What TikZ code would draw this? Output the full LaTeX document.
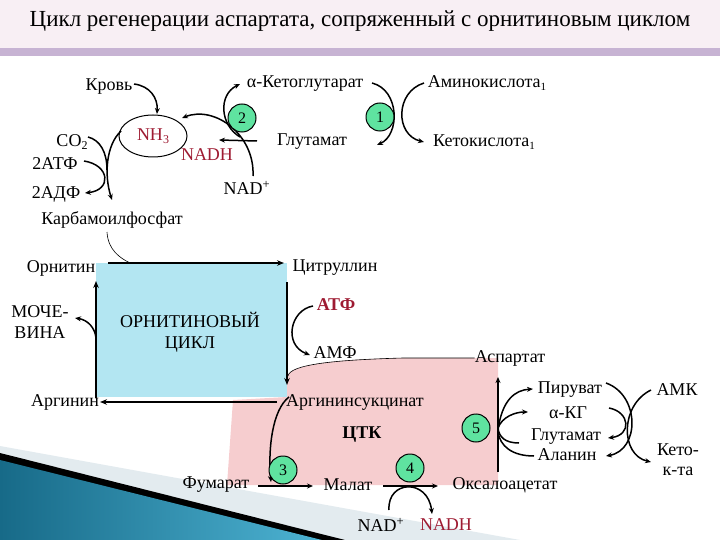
\documentclass[tikz,border=0pt]{standalone}
\usepackage{fontspec}
\setmainfont{Liberation Serif}
\usetikzlibrary{arrows.meta,shapes.geometric}
\definecolor{titlebg}{HTML}{F8EFF4}
\definecolor{barc}{HTML}{C7B3D3}
\definecolor{boxblue}{HTML}{B3E6F2}
\definecolor{pinkc}{HTML}{F6CDCF}
\definecolor{greenc}{HTML}{5FE3A0}
\definecolor{redc}{HTML}{9E1B32}
\definecolor{tealA}{HTML}{176A88}
\definecolor{tealB}{HTML}{4DB3D3}
\definecolor{paleblue}{HTML}{E3EBEF}
\begin{document}
\begin{tikzpicture}[x=1pt,y=-1pt,
  lbl/.style={inner sep=0pt,font=\fontsize{18}{21}\selectfont},
  redt/.style={text=redc},
  enz/.style={circle,draw,line width=1pt,fill=greenc,minimum size=28pt,inner sep=0pt,font=\fontsize{16}{16}\selectfont},
  arr/.style={-{Stealth[length=6pt,width=5pt]},line width=1.5pt},
  ln/.style={line width=1.5pt},
  boxarr/.style={-{Stealth[length=7pt,width=5.5pt]},line width=2pt},
  thinl/.style={line width=0.6pt}]
\useasboundingbox (0,0) rectangle (720,540);
% background
\fill[titlebg] (0,0) rectangle (720,48);
\fill[barc] (0,48) rectangle (720,56);
\fill[paleblue] (0,446) -- (520,540) -- (0,540) -- cycle;
\fill[black] (0,453) -- (345,540) -- (0,540) -- cycle;
\shade[left color=tealA,right color=tealB] (0,460) -- (322,540) -- (0,540) -- cycle;
\node[inner sep=0pt,font=\fontsize{23}{25}\selectfont] (title) at (360,21) {Цикл регенерации аспартата, сопряженный с орнитиновым циклом};
% regions
\fill[pinkc] (227,485) -- (233,400) -- (287,397) -- (287,376) .. controls (292,364) and (340,359) .. (405,358) -- (498,358) -- (498,485) -- cycle;
\fill[boxblue] (96,263) rectangle (287,397);
% top labels
\node[lbl] (krov) at (109,87) {Кровь};
\node[lbl] (akg) at (305,84) {α-Кетоглутарат};
\node[lbl] (amino) at (487,83) {Аминокислота\raisebox{-3pt}{\fontsize{11}{11}\selectfont 1}};
\node[lbl] (glu) at (312,142) {Глутамат};
\node[lbl] (keto) at (484,142) {Кетокислота\raisebox{-3pt}{\fontsize{11}{11}\selectfont 1}};
\node[ellipse,draw,line width=1pt,minimum width=68pt,minimum height=42pt,inner sep=0pt,font=\fontsize{18}{21}\selectfont,text=redc] (nh3) at (153,136) {NH\raisebox{-3pt}{\fontsize{12}{12}\selectfont 3}};
\node[lbl,redt] (nadh) at (207,155) {NADH};
\node[lbl] (co2) at (72,142) {CO\raisebox{-3pt}{\fontsize{12}{12}\selectfont 2}};
\node[lbl] (atp2) at (55,164) {2АТФ};
\node[lbl] (adp2) at (56,194) {2АДФ};
\node[lbl] (carb) at (112,220) {Карбамоилфосфат};
\node[lbl] (nadp) at (247,188) {NAD\textsuperscript{+}};
% ornithine cycle
\node[lbl] (orn) at (61,268) {Орнитин};
\node[lbl] (cit) at (335,268) {Цитруллин};
\node[lbl,align=center] (moch) at (40,322) {МОЧЕ-\\ВИНА};
\node[inner sep=0pt,align=center,font=\fontsize{18}{21}\selectfont] (oc) at (190,332) {ОРНИТИНОВЫЙ\\ЦИКЛ};
\node[lbl,redt,font=\fontsize{18}{21}\selectfont\bfseries] (atf) at (336,305) {АТФ};
\node[lbl] (amf) at (335,353) {АМФ};
\node[lbl] (asp) at (510,358) {Аспартат};
\node[lbl] (arg) at (65,402) {Аргинин};
\node[lbl] (argsuc) at (355,402) {Аргининсукцинат};
\node[lbl,font=\fontsize{18}{21}\selectfont\bfseries] (ctk) at (362,435) {ЦТК};
\node[lbl] (fum) at (216,485) {Фумарат};
\node[lbl] (mal) at (348,485) {Малат};
\node[lbl] (oxa) at (505,485) {Оксалоацетат};
\node[lbl] (nad2) at (381,525) {NAD\textsuperscript{+}};
\node[lbl,redt] (nadh2) at (446,525) {NADH};
\node[lbl] (pyr) at (570,390) {Пируват};
\node[lbl] (akg2) at (568,413) {α-КГ};
\node[lbl] (glu2) at (566,437) {Глутамат};
\node[lbl] (ala) at (567,455) {Аланин};
\node[lbl] (amk) at (677,390) {АМК};
\node[lbl,align=center,font=\fontsize{18}{20}\selectfont] (keto2) at (678,460) {Кето-\\к-та};
% coordinates
\coordinate (x2) at (240,137);
\coordinate (v5) at (498,430);
% top arrows
\draw[arr] (134,84) .. controls (150,86) and (158,98) .. (157,114);
\draw[arr] (121,131) .. controls (106,145) and (104,175) .. (112,200);
\draw[ln] (88,137) .. controls (100,140) and (107,152) .. (107,170);
\draw[arr] (84,161) .. controls (110,165) and (112,190) .. (85,193);
\draw[thinl] (107,232) .. controls (108,250) and (120,258) .. (130,263);
\draw[arr] (253,176) .. controls (255,135) and (215,105) .. (182,118);
\draw[arr] (257,141) -- (219,140);
\draw[arr] (x2) .. controls (220,125) and (218,95) .. (240,84);
\draw[arr] (372,83) .. controls (400,90) and (400,135) .. (377,145);
\draw[arr] (424,83) .. controls (395,92) and (395,135) .. (424,142);
% ornithine cycle arrows
\draw[boxarr] (108,263) -- (284,263);
\draw[boxarr] (287,282) -- (287,385);
\draw[boxarr] (277,402) -- (100,402);
\draw[boxarr] (96,398) -- (96,281);
\draw[arr] (96,338) .. controls (95,328) and (88,320) .. (75,318);
\draw[arr] (313,306) .. controls (290,310) and (283,345) .. (310,355);
\draw[thinl] (asp.west) -- (403,358) .. controls (330,360) and (290,365) .. (288,376);
% TCA
\draw[arr] (289,397) .. controls (272,410) and (268,450) .. (271,482);
\draw[arr] (258,486) -- (313,486);
\draw[arr] (383,486) -- (438,486);
\draw[arr] (389,510) .. controls (387,480) and (428,478) .. (432,514);
\draw[arr] (498,472) -- (498,377);
\draw[arr] (v5) .. controls (502,400) and (515,390) .. (533,389);
\draw[arr] (498,428) .. controls (502,417) and (515,412) .. (528,412);
\draw[ln] (519,443) .. controls (505,443) and (499,437) .. (498,428);
\draw[ln] (534,456) .. controls (512,456) and (500,446) .. (498,432);
\draw[arr] (606,383) .. controls (640,395) and (640,450) .. (606,456);
\draw[arr] (609,408) .. controls (630,412) and (632,435) .. (608,438);
\draw[arr] (651,390) .. controls (620,405) and (620,455) .. (651,462);
% enzymes
\node[enz] (e2) at (242,118) {2};
\node[enz] (e1) at (380,117) {1};
\node[enz] (e3) at (283,470) {3};
\node[enz] (e4) at (410,468) {4};
\node[enz] (e5) at (476,428) {5};
\end{tikzpicture}
\end{document}
